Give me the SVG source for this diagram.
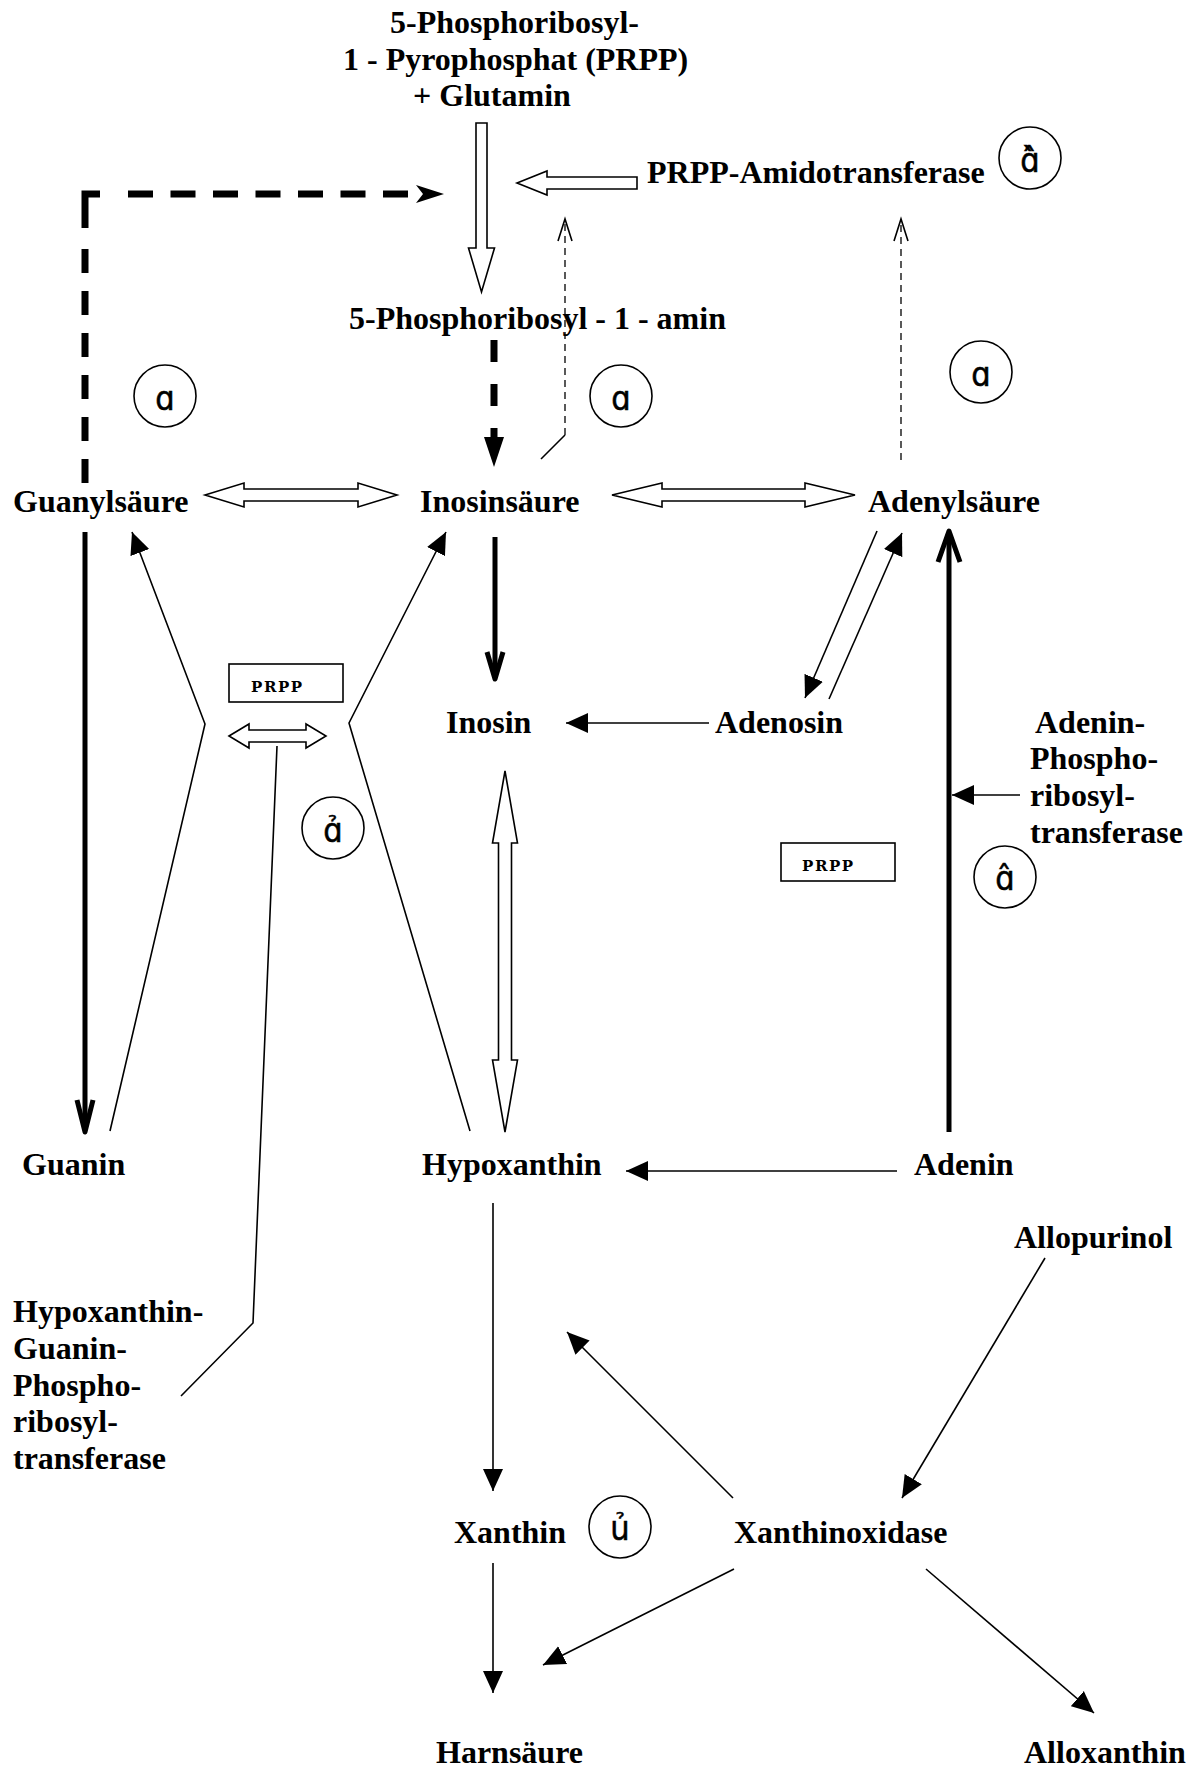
<svg xmlns="http://www.w3.org/2000/svg" width="1191" height="1769" viewBox="0 0 1191 1769">
<style>
.t{font-family:"Liberation Serif","Times New Roman",serif;font-weight:bold;font-size:32px;fill:#000}
.p{font-family:"DejaVu Serif",serif;font-weight:bold;font-size:15px;letter-spacing:1.6px;fill:#000}
.s{font-family:"DejaVu Sans Condensed","DejaVu Sans",sans-serif;font-size:34px;fill:#000;stroke:#000;stroke-width:0.5;text-anchor:middle}
.c{fill:#fff;stroke:#000;stroke-width:1.6}
.box{fill:#fff;stroke:#000;stroke-width:1.6}
.hol{fill:#fff;stroke:#000;stroke-width:1.6;stroke-linejoin:miter}
.ln{fill:none;stroke:#000;stroke-width:1.6}
.th{fill:none;stroke:#000;stroke-width:5}
.dsh{fill:none;stroke:#000;stroke-width:7}
.thd{fill:none;stroke:#000;stroke-width:1.3;stroke-dasharray:7 5}
</style>
<defs>
<marker id="ah" markerUnits="userSpaceOnUse" markerWidth="24" markerHeight="22" viewBox="0 0 24 22" refX="22" refY="11" orient="auto">
<path d="M0,1 L22,11 L0,21 Z" fill="#000"/>
</marker>
</defs>

<g id="connectors">
<!-- hollow arrows -->
<polygon class="hol" points="476,123 487,123 487,248 494.5,248 481.5,292 468.5,248 476,248"/>
<polygon class="hol" points="517,183 547,171 547,177 637,177 637,189 547,189 547,195"/>
<polygon class="hol" points="205,495 244,483 244,489 358,489 358,483 397,495 358,507 358,501 244,501 244,507"/>
<polygon class="hol" points="612,495 662,483 662,489 805,489 805,483 855,495 805,507 805,501 662,501 662,507"/>
<polygon class="hol" points="505,771 517.5,843 511.5,843 511.5,1060 517.5,1060 505,1132 492.5,1060 498.5,1060 498.5,843 492.5,843"/>
<polygon class="hol" points="229,736 249,724 249,730 306,730 306,724 326,736 306,748 306,742 249,742 249,748"/>

<!-- thick dashed feedback from Guanylsäure -->
<line class="dsh" x1="85" y1="483" x2="85" y2="240" stroke-dasharray="24 18"/>
<path class="dsh" d="M85,228 V194 H100" stroke-linejoin="miter"/>
<line class="dsh" x1="128" y1="194" x2="416" y2="194" stroke-dasharray="25 17.5"/>
<polygon points="444,194 416,185 423,194 416,203" fill="#000"/>

<!-- thick dashed to Inosinsäure -->
<line class="dsh" x1="494" y1="340" x2="494" y2="440" stroke-dasharray="22 22"/>
<polygon points="494,467 484,437 504,437" fill="#000"/>

<!-- thin dashed feedback arrows -->
<line class="ln" x1="541" y1="459" x2="565" y2="435"/>
<line class="thd" x1="565" y1="435" x2="565" y2="221"/>
<polyline class="ln" points="558,241 565,219 572,241" stroke-width="1.3"/>
<line class="thd" x1="901" y1="460" x2="901" y2="221"/>
<polyline class="ln" points="894,241 901,219 908,241" stroke-width="1.3"/>

<!-- thick solid arrows -->
<line class="th" x1="85" y1="532" x2="85" y2="1130"/>
<polyline class="th" points="77,1100 85,1132 93,1100" stroke-linejoin="round"/>
<line class="th" x1="495" y1="537" x2="495" y2="678"/>
<polyline class="th" points="487,652 495,679 503,652" stroke-linejoin="round"/>
<line class="th" x1="949" y1="1132" x2="949" y2="533"/>
<polyline class="th" points="938,562 949,531 960,562" stroke-linejoin="round"/>

<!-- hourglass arrows -->
<polyline class="ln" points="110,1131 205,724 132,532" marker-end="url(#ah)"/>
<polyline class="ln" points="470,1131 349,723 446,532" marker-end="url(#ah)"/>
<!-- PRPP enzyme pointer line -->
<polyline class="ln" points="277,746 253,1323 181,1396"/>

<!-- Adenylsäure / Adenosin -->
<line class="ln" x1="877" y1="531" x2="805" y2="698" marker-end="url(#ah)"/>
<line class="ln" x1="829" y1="699" x2="902" y2="533" marker-end="url(#ah)"/>
<line class="ln" x1="709" y1="723" x2="566" y2="723" marker-end="url(#ah)"/>
<line class="ln" x1="1020" y1="795" x2="952" y2="795" marker-end="url(#ah)"/>

<!-- lower part -->
<line class="ln" x1="897" y1="1171" x2="626" y2="1171" marker-end="url(#ah)"/>
<line class="ln" x1="493" y1="1203" x2="493" y2="1491" marker-end="url(#ah)"/>
<line class="ln" x1="493" y1="1563" x2="493" y2="1693" marker-end="url(#ah)"/>
<line class="ln" x1="733" y1="1498" x2="567" y2="1332" marker-end="url(#ah)"/>
<line class="ln" x1="1045" y1="1258" x2="902" y2="1498" marker-end="url(#ah)"/>
<line class="ln" x1="734" y1="1569" x2="543" y2="1665" marker-end="url(#ah)"/>
<line class="ln" x1="926" y1="1569" x2="1094" y2="1713" marker-end="url(#ah)"/>
</g>

<g id="node-prpp-glutamin">
<text class="t" x="390" y="33">5-Phosphoribosyl-</text>
<text class="t" x="343" y="70">1 - Pyrophosphat (PRPP)</text>
<text class="t" x="413" y="106">+ Glutamin</text>
</g>
<g id="node-amidotransferase"><text class="t" x="647" y="183">PRPP-Amidotransferase</text></g>
<g id="node-phosphoribosylamin"><text class="t" x="349" y="329">5-Phosphoribosyl - 1 - amin</text></g>
<g id="node-guanylsaeure"><text class="t" x="13" y="512">Guanylsäure</text></g>
<g id="node-inosinsaeure"><text class="t" x="420" y="512">Inosinsäure</text></g>
<g id="node-adenylsaeure"><text class="t" x="868" y="512">Adenylsäure</text></g>
<g id="node-inosin"><text class="t" x="446" y="733">Inosin</text></g>
<g id="node-adenosin"><text class="t" x="715" y="733">Adenosin</text></g>
<g id="node-aprt">
<text class="t" x="1035" y="733">Adenin-</text>
<text class="t" x="1030" y="769">Phospho-</text>
<text class="t" x="1030" y="806">ribosyl-</text>
<text class="t" x="1030" y="843">transferase</text>
</g>
<g id="node-prpp1"><rect class="box" x="229" y="664" width="114" height="38"/><text class="p" x="251" y="692">PRPP</text></g>
<g id="node-prpp2"><rect class="box" x="781" y="843" width="114" height="38"/><text class="p" x="802" y="871">PRPP</text></g>
<g id="node-guanin"><text class="t" x="22" y="1175">Guanin</text></g>
<g id="node-hypoxanthin"><text class="t" x="422" y="1175">Hypoxanthin</text></g>
<g id="node-adenin"><text class="t" x="914" y="1175">Adenin</text></g>
<g id="node-allopurinol"><text class="t" x="1014" y="1248">Allopurinol</text></g>
<g id="node-hgprt">
<text class="t" x="13" y="1322">Hypoxanthin-</text>
<text class="t" x="13" y="1359">Guanin-</text>
<text class="t" x="13" y="1396">Phospho-</text>
<text class="t" x="13" y="1432">ribosyl-</text>
<text class="t" x="13" y="1469">transferase</text>
</g>
<g id="node-xanthin"><text class="t" x="454" y="1543">Xanthin</text></g>
<g id="node-xanthinoxidase"><text class="t" x="734" y="1543">Xanthinoxidase</text></g>
<g id="node-harnsaeure"><text class="t" x="436" y="1763">Harnsäure</text></g>
<g id="node-alloxanthin"><text class="t" x="1024" y="1763">Alloxanthin</text></g>

<g id="marker-1"><circle class="c" cx="1030" cy="158" r="31"/><text class="s" x="1030" y="172">ɑ̂̀</text></g>
<g id="marker-2"><circle class="c" cx="165" cy="396" r="31"/><text class="s" x="165" y="410">ɑ</text></g>
<g id="marker-3"><circle class="c" cx="621" cy="396" r="31"/><text class="s" x="621" y="410">ɑ</text></g>
<g id="marker-4"><circle class="c" cx="981" cy="372" r="31"/><text class="s" x="981" y="386">ɑ</text></g>
<g id="marker-5"><circle class="c" cx="333" cy="828" r="31"/><text class="s" x="333" y="842">ɑ̉</text></g>
<g id="marker-6"><circle class="c" cx="1005" cy="877" r="31"/><text class="s" x="1005" y="890">ɑ̂</text></g>
<g id="marker-7"><circle class="c" cx="620" cy="1527" r="31"/><text class="s" x="620" y="1540">ủ</text></g>
</svg>
